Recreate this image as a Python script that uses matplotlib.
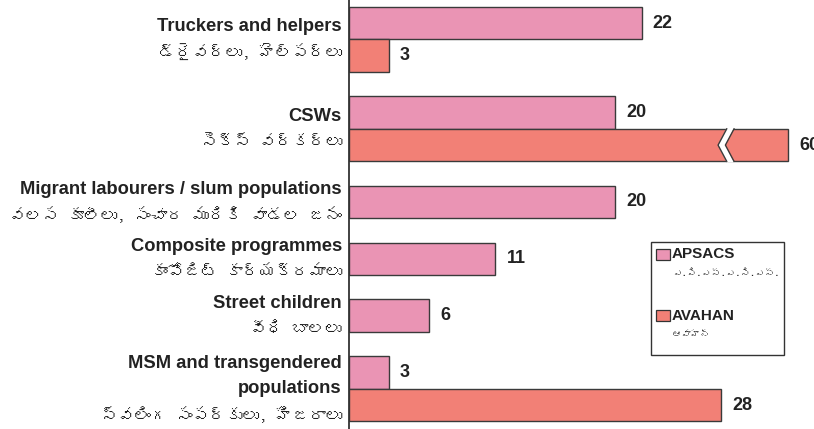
import matplotlib
matplotlib.use("Agg")
import matplotlib.pyplot as plt
from matplotlib.patches import Rectangle, Polygon
from matplotlib import font_manager
from matplotlib.ft2font import FT2Font

# data
categories_en = ["Truckers and helpers", "CSWs", "Migrant labourers / slum populations",
                 "Composite programmes", "Street children", "MSM and transgendered\npopulations"]
categories_te = ["డ్రైవర్లు, హెల్పర్లు", "సెక్స్ వర్కర్లు", "వలస కూలీలు, సంచార మురికి వాడల జనం",
                 "కాంపోజిట్ కార్యక్రమాలు", "వీధి బాలలు", "స్వలింగ సంపర్కులు, హిజరాలు"]
apsacs = [22, 20, 20, 11, 6, 3]
avahan = [3, 60, None, None, None, 28]
series_en = ["APSACS", "AVAHAN"]
series_te = ["ఎ.పి.ఎస్.ఎ.సి.ఎస్.", "ఆవాహన్"]
colors = ["#EA94B4", "#F28076"]

W, H = 814, 429
CAP = 33.0      # longest bar drawn, longer values get a break
GAP = 0.75
EDGE = "#3a3a3a"
TXT = "#222222"


def find_font(ch):
    for f in font_manager.fontManager.ttflist:
        try:
            if ord(ch) in FT2Font(f.fname).get_charmap():
                return f.name
        except Exception:
            pass
    return None

te_font = find_font("వ")
te_family = [te_font, "DejaVu Sans"] if te_font else ["DejaVu Sans"]
en_family = ["Liberation Sans", "DejaVu Sans"]

fig = plt.figure(figsize=(W / 100, H / 100), dpi=100)
ax = fig.add_axes([349 / W, 0, (W - 349) / W, 1])
ax.set_xlim(0, (W - 349) / 13.3)
ax.set_ylim(12.985, -0.215)

# bar rows
ys, vals, cols = [], [], []
centers = []
y = 0.0
for i in range(len(categories_en)):
    top = y
    for s, v in enumerate([apsacs[i], avahan[i]]):
        if v is None:
            continue
        ys.append(y + 0.5)
        vals.append(v)
        cols.append(colors[s])
        y += 1
    centers.append((top + y) / 2)
    y += GAP

shown = [min(v, CAP) for v in vals]
ax.barh(ys, shown, height=1.0, color=cols, edgecolor=EDGE, linewidth=1.0, zorder=2)

for yy, v, s in zip(ys, vals, shown):
    ax.annotate(str(v), (s, yy), xytext=(8, 0), textcoords="offset points",
                va="center", ha="left", fontsize=13, fontweight="bold",
                color=TXT, family=en_family, annotation_clip=False)
    if v > CAP:
        x0, dx, g = CAP - 4.6, 0.65, 0.55
        t, b = yy - 0.53, yy + 0.53
        ax.add_patch(Polygon([(x0, t), (x0 - dx, yy), (x0, b), (x0 + g, b),
                              (x0 + g - dx, yy), (x0 + g, t)],
                             closed=True, facecolor="white", edgecolor="none", zorder=3))
        for xs in (x0, x0 + g):
            ax.plot([xs, xs - dx, xs], [yy - 0.5, yy, yy + 0.5],
                    color=EDGE, lw=1.0, zorder=4)

# category labels
for c, en, te in zip(centers, categories_en, categories_te):
    lines = en.split("\n")
    n = len(lines) + 1
    for k, ln in enumerate(lines + [te]):
        yk = c + (k - (n - 1) / 2) * 0.78
        is_te = k == n - 1
        ax.text(-0.53, yk, ln, ha="right", va="center", color=TXT,
                fontsize=12 if is_te else 13.2, fontweight="normal" if is_te else "bold",
                family=te_family if is_te else en_family)

for side in ["top", "right", "bottom"]:
    ax.spines[side].set_visible(False)
ax.spines["left"].set_color("#333333")
ax.spines["left"].set_linewidth(1.3)
ax.spines["left"].set_zorder(5)
ax.set_xticks([])
ax.set_yticks([])


# legend drawn by hand (bold english + telugu line)
def px(x, y):
    return ((x - 349) / (W - 349), 1 - y / H)

x0, y0 = px(651, 355)
x1, y1 = px(784, 242)
ax.add_patch(Rectangle((x0, y0), x1 - x0, y1 - y0, transform=ax.transAxes,
                       facecolor="white", edgecolor="#333333", lw=1.0, zorder=6))
for s, (top_px, name, te) in enumerate(zip([249, 310], series_en, series_te)):
    sx, sy = px(656, top_px + 11)
    sx2, _ = px(670, 0)
    ax.add_patch(Rectangle((sx, sy), sx2 - sx, 11 / H, transform=ax.transAxes,
                           facecolor=colors[s], edgecolor="#333333", lw=0.9, zorder=7))
    tx, ty = px(672, top_px + 5.5)
    ax.text(tx, ty, name, transform=ax.transAxes, ha="left", va="center",
            fontsize=11, fontweight="bold", color=TXT, family=en_family, zorder=7)
    tx, ty = px(672, top_px + 24)
    ax.text(tx, ty, te, transform=ax.transAxes, ha="left", va="center",
            fontsize=7, color=TXT, family=te_family, zorder=7)

fig.savefig("out.png", dpi=100)
